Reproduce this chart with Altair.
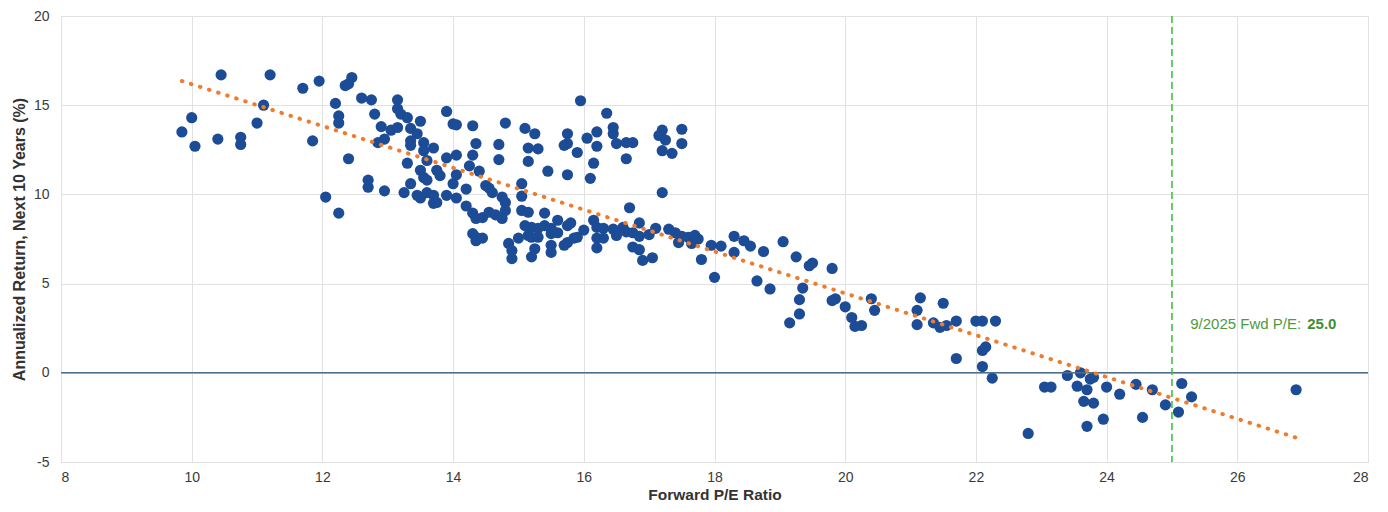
import altair as alt
import pandas as pd

pe = [
    9.85, 10.0, 10.05, 10.4, 10.45, 10.75, 10.75, 11.0, 11.1, 11.2, 11.7, 11.85, 11.95,
    12.05, 12.2, 12.25, 12.25, 12.25, 12.35, 12.4, 12.45, 12.4, 12.6, 12.75, 12.7, 12.7,
    12.8, 12.85, 12.9, 12.95, 12.95,
    13.05, 13.15, 13.15, 13.15, 13.2, 13.3, 13.25, 13.3, 13.35, 13.35, 13.35, 13.35, 13.45,
    13.5, 13.55, 13.55, 13.6, 13.5, 13.55, 13.6, 13.45, 13.5, 13.6, 13.7, 13.7, 13.7, 13.75,
    13.75, 13.8, 13.9, 13.9, 13.9, 14.0, 14.05, 14.0, 14.05, 14.05, 14.05,
    14.2, 14.2, 14.3, 14.3, 14.25, 14.35, 14.3, 14.35, 14.3, 14.35, 14.35, 14.45, 14.4, 14.5,
    14.55, 14.6, 14.45, 14.55, 14.65, 14.7, 14.7, 14.75, 14.8, 14.8, 14.75, 14.8, 14.85, 14.9,
    14.9, 15.0,
    15.05, 15.05, 15.05, 15.15, 15.1, 15.25, 15.15, 15.3, 15.15, 15.1, 15.2, 15.3, 15.4, 15.4,
    15.5, 15.6, 15.75, 15.8, 15.15, 15.2, 15.3, 15.5, 15.6, 15.25, 15.2, 15.5, 15.5, 15.7,
    15.75, 15.85, 15.9, 15.45, 15.7, 15.75, 15.75, 15.75, 15.9, 15.95,
    16.0, 16.05, 16.1, 16.15, 16.2, 16.2, 16.2, 16.15, 16.2, 16.2, 16.3, 16.3, 16.35, 16.45,
    16.45, 16.5, 16.45, 16.5, 16.6, 16.65, 16.65, 16.75, 16.65, 16.7, 16.75, 16.85, 16.75,
    16.85, 16.85, 16.9, 17.0,
    17.05, 17.1, 17.2, 17.15, 17.25, 17.2, 17.2, 17.3, 17.35, 17.4, 17.45, 17.5, 17.5, 17.5,
    17.6, 17.65, 17.7, 17.75, 17.8, 17.95,
    18.0, 18.1, 18.3, 18.3, 18.45, 18.55, 18.65, 18.75, 18.85, 19.05, 19.15, 19.25, 19.3, 19.3,
    19.35, 19.45, 19.5, 19.8, 19.8, 19.85,
    20.0, 20.1, 20.15, 20.25, 20.4, 20.45, 21.1, 21.1, 21.15, 21.35, 21.45, 21.5, 21.55, 21.7,
    21.7, 22.0, 22.1, 22.3, 22.15, 22.1, 22.1, 22.25, 22.8,
    23.05, 23.15, 23.4, 23.6, 23.55, 23.7, 23.75, 23.8, 23.65, 23.8, 23.7, 24.0, 23.95, 24.2,
    24.45, 24.55, 24.7, 24.9, 25.1, 25.15, 25.3, 26.9,
]

ret = [
    13.5, 14.3, 12.7, 13.1, 16.7, 13.2, 12.8, 14.0, 15.0, 16.7, 15.95, 13.0, 16.35,
    9.85, 15.1, 14.4, 14.0, 8.95, 16.1, 16.2, 16.55, 12.0, 15.4, 15.3, 10.8, 10.4,
    14.5, 12.9, 13.8, 13.1, 10.2,
    13.6, 13.75, 15.3, 14.8, 14.5, 14.3, 10.1, 11.75, 13.7, 13.0, 12.75, 10.6, 13.4,
    14.1, 12.9, 12.45, 11.9, 11.35, 10.95, 10.8, 9.95, 9.8, 10.1, 12.6, 9.95, 9.5, 9.55,
    11.35, 11.05, 12.05, 14.65, 9.95, 13.95, 13.9, 10.6, 12.2, 11.1, 9.8,
    10.3, 9.35, 13.85, 12.2, 11.6, 12.85, 8.95, 8.65, 7.8, 7.4, 7.6, 7.55, 11.3, 10.5,
    10.35, 10.1, 8.7, 9.0, 8.85, 12.8, 11.95, 9.85, 9.55, 9.1, 8.65, 14.0, 7.25, 6.85,
    6.4, 7.55,
    10.6, 9.9, 9.1, 9.0, 13.7, 13.4, 12.6, 12.55, 11.85, 8.25, 8.15, 8.1, 8.25, 8.95,
    8.1, 8.55, 8.25, 8.4, 7.7, 7.6, 7.6, 7.8, 7.85, 6.95, 6.5, 7.15, 6.75, 7.15,
    7.3, 7.55, 7.6, 11.3, 12.75, 13.4, 12.85, 11.1, 12.35, 15.25,
    8.0, 13.15, 10.9, 8.55, 8.15, 13.5, 12.7, 11.75, 7.55, 7.0, 8.1, 7.55, 14.55, 13.75,
    13.4, 12.85, 8.05, 7.7, 8.15, 7.9, 12.9, 12.9, 12.0, 9.25, 7.85, 7.65, 7.05,
    6.9, 8.4, 6.3, 7.75,
    6.45, 8.1, 13.6, 13.3, 13.05, 12.45, 10.1, 8.05, 12.3, 7.85, 7.3, 13.65, 12.85, 7.65,
    7.6, 7.25, 7.7, 7.5, 6.35, 7.15,
    5.35, 7.1, 7.65, 6.75, 7.4, 7.1, 5.15, 6.8, 4.7, 7.35, 2.8, 6.5, 3.3, 4.1,
    4.75, 6.0, 6.15, 5.85, 4.05, 4.15,
    3.7, 3.1, 2.6, 2.65, 4.15, 3.5, 3.5, 2.7, 4.2, 2.8, 2.55, 3.9, 2.65, 2.9,
    0.8, 2.9, 2.9, 2.9, 1.45, 1.25, 0.35, -0.3, -3.4,
    -0.8, -0.8, -0.15, 0.0, -0.75, -0.95, -0.35, -0.25, -1.6, -1.7, -3.0, -0.8, -2.6, -1.2,
    -0.65, -2.5, -0.95, -1.8, -2.2, -0.6, -1.35, -0.95,
]

x_ticks = [8, 10, 12, 14, 16, 18, 20, 22, 24, 26, 28]
y_ticks = [-5, 0, 5, 10, 15, 20]
current_pe = [25.0]
zero_line = [0]
note_x = [25.28]
note_y = [2.45]
note_label = ["9/2025 Fwd P/E: "]
note_value = ["25.0"]

df = pd.DataFrame({"pe": pe, "ret": ret})

FONT = "Liberation Sans"
xscale = alt.Scale(domain=[8, 28], nice=False, zero=False)
yscale = alt.Scale(domain=[-5, 20], nice=False, zero=False)

xaxis = alt.Axis(values=x_ticks, labelExpr="'' + datum.value", title="Forward P/E Ratio", grid=True,
                 ticks=False, domain=False,
                 labelFontSize=14, labelColor="#3a3a3a", labelPadding=8, labelFont=FONT,
                 titleFont=FONT, titleFontSize=15.5, titleFontWeight="bold", titleColor="#333333",
                 titlePadding=3, gridColor="#e1e1e1")
yaxis = alt.Axis(values=y_ticks, labelExpr="'' + datum.value", title="Annualized Return, Next 10 Years (%)",
                 grid=True, ticks=False,
                 domain=False, labelFontSize=14, labelColor="#3a3a3a", labelPadding=12, labelFont=FONT,
                 titleFont=FONT, titleFontSize=16, titleFontWeight="bold", titleColor="#333333",
                 titlePadding=6, gridColor="#e1e1e1")

base = alt.Chart(df)

points = base.mark_circle(size=125, color="#1d4c96", opacity=1).encode(
    x=alt.X("pe:Q", scale=xscale, axis=xaxis),
    y=alt.Y("ret:Q", scale=yscale, axis=yaxis),
)

trend = base.transform_regression("pe", "ret").mark_line(
    color="#f07b2c", strokeWidth=4, strokeDash=[0.5, 9], strokeCap="round"
).encode(x=alt.X("pe:Q", scale=xscale), y=alt.Y("ret:Q", scale=yscale))

zero = alt.Chart(pd.DataFrame({"y": zero_line})).mark_rule(color="#4d6d8c", strokeWidth=1.6).encode(
    y=alt.Y("y:Q", scale=yscale)
)

vline = alt.Chart(pd.DataFrame({"x": current_pe})).mark_rule(
    color="#3cc43c", strokeWidth=1.6, strokeDash=[7, 4]
).encode(x=alt.X("x:Q", scale=xscale))

note_df = pd.DataFrame({"x": note_x, "y": note_y, "label": note_label, "value": note_value})
note1 = alt.Chart(note_df).mark_text(
    align="left", baseline="alphabetic", font=FONT, fontSize=15, color="#4e9a3e"
).encode(x=alt.X("x:Q", scale=xscale), y=alt.Y("y:Q", scale=yscale), text="label:N")
note2 = alt.Chart(note_df).mark_text(
    align="left", baseline="alphabetic", font=FONT, fontSize=15, fontWeight="bold", color="#3f8f32", dx=117
).encode(x=alt.X("x:Q", scale=xscale), y=alt.Y("y:Q", scale=yscale), text="value:N")

chart = alt.layer(points, zero, vline, trend, note1, note2).properties(
    width=1307, height=446,
    autosize=alt.AutoSizeParams(type="none"),
    padding={"left": 53, "top": 8, "right": 12, "bottom": 42},
).configure_view(stroke=None).configure(background="white")

chart.save("out.html", embed_options={"renderer": "svg", "actions": False})
